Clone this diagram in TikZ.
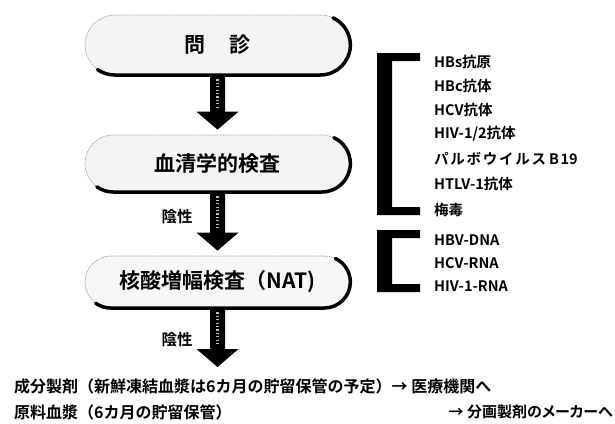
\documentclass[tikz,border=0pt]{standalone}
\usepackage{fontspec}
\setmainfont{Noto Sans CJK JP}[BoldFont={Noto Sans CJK JP Bold}]
\usetikzlibrary{calc}
\newcommand\blockarrow[2]{%
  \fill[black] ($(#1)+(-7.5,0)$) -- ($(#2)+(-7.5,-18)$) -- ($(#2)+(-21,-18)$) -- (#2)
    -- ($(#2)+(21,-18)$) -- ($(#2)+(7.5,-18)$) -- ($(#1)+(7.5,0)$) -- cycle;
  \draw[gray!55,line width=2.5pt,dash pattern=on 1.2pt off 2.2pt]
    ($(#1)+(0,4)$) -- ($(#2)+(0,-22)$);}
\newcommand\pillshadow[2]{%
  \draw[line width=3.5pt,line cap=round] ($(#1.west)+(#2,0)$) ++(235:#2pt)
    arc[start angle=235,end angle=270,radius=#2pt]
    -- ($(#1.east)+(-#2,#2)$)
    arc[start angle=-90,end angle=65,radius=#2pt];}
\begin{document}
\begin{tikzpicture}[x=1pt,y=-1pt,
  pill/.style={minimum width=265pt,fill=gray!9,draw=gray!75,line width=0.7pt,
    dash pattern=on 1.5pt off 1pt,inner sep=0pt,
    font=\fontsize{21}{21}\selectfont\bfseries},
  neg/.style={font=\fontsize{15.5}{15.5}\selectfont\bfseries,inner sep=0pt},
  lab/.style={anchor=west,font=\fontsize{14.5}{14.5}\selectfont\bfseries,inner sep=0pt},
  bot/.style={font=\fontsize{16}{16}\selectfont\bfseries,inner sep=0pt}]
\useasboundingbox (0,0) rectangle (615,423);
% boxes
\node[pill,minimum height=60pt,rounded corners=30pt] (b1) at (217.5,45) {問\hspace{24pt}診};
\node[pill,minimum height=57pt,rounded corners=28.5pt] (b2) at (217.5,163.5) {血清学的検査};
\node[pill,fill=gray!6,minimum height=52pt,rounded corners=26pt] (b3) at (217.5,282) {核酸増幅検査（NAT)};
\coordinate (a1) at ($(b2.north)+(0,-5)$);
\coordinate (a2) at ($(b3.north)+(0,-5)$);
\coordinate (a3) at (217.5,367);
\blockarrow{b1.south}{a1}
\blockarrow{b2.south}{a2}
\blockarrow{b3.south}{a3}
\pillshadow{b1}{30}
\pillshadow{b2}{28.5}
\pillshadow{b3}{26}
% labels
\node[neg] (n1) at (177,217) {陰性};
\node[neg] (n2) at (177,340) {陰性};
% brackets
\fill (377,53) -- (420,53) -- (420,61) -- (392,61) -- (392,207) -- (420,207)
  -- (420,215) -- (377,215) -- cycle;
\fill (377,230) -- (420,230) -- (420,238) -- (392,238) -- (392,284) -- (420,284)
  -- (420,292) -- (377,292) -- cycle;
\node[lab] (l1) at (434,62) {HBs抗原};
\node[lab] (l2) at (434,86) {HBc抗体};
\node[lab] (l3) at (434,110) {HCV抗体};
\node[lab] (l4) at (434,134) {HIV-1/2抗体};
\node[lab] (l5) at (434,159) {{\addfontfeatures{LetterSpace=12}パルボウイルス}\hspace{3pt}B\hspace{1.5pt}19};
\node[lab] (l6) at (434,184) {HTLV-1抗体};
\node[lab] (l7) at (434,210) {梅毒};
\node[lab] (m1) at (434,240) {HBV-DNA};
\node[lab] (m2) at (434,263) {HCV-RNA};
\node[lab] (m3) at (434,286) {HIV-1-RNA};
% bottom text
\node[bot,anchor=west] (t1) at (14,386) {成分製剤（新鮮凍結血漿は6カ月の貯留保管の予定）→ 医療機関へ};
\node[bot,anchor=west] (t2) at (14,412) {原料血漿（6カ月の貯留保管）};
\node[bot,anchor=east,font=\fontsize{15}{15}\selectfont\bfseries\addfontfeatures{RawFeature=+palt}] (t3) at (613,412) {→ 分画製剤のメーカーへ};
\end{tikzpicture}
\end{document}
